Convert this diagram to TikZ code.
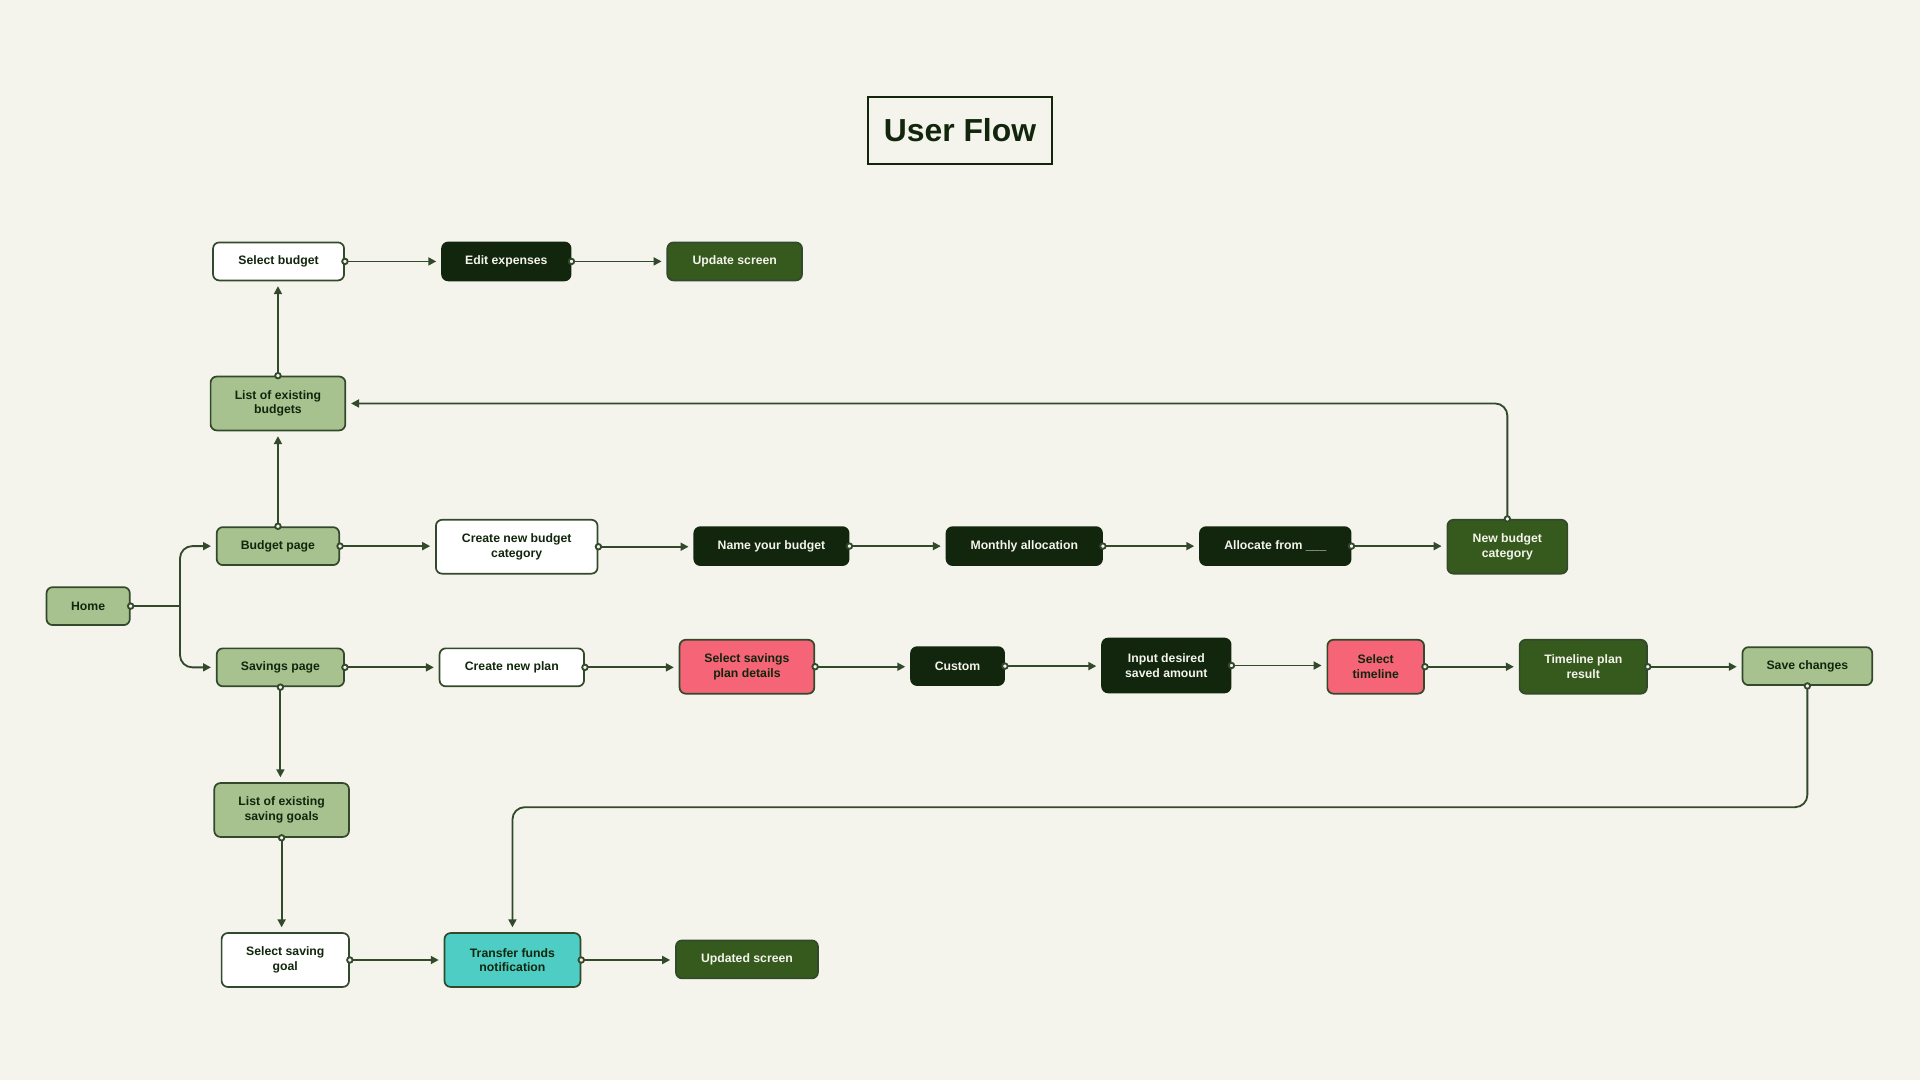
\documentclass[tikz,border=0pt]{standalone}
\usepackage{fontspec}
\setmainfont{Liberation Sans}
\usetikzlibrary{arrows.meta}
\definecolor{bg}{HTML}{F4F4EC}
\definecolor{ink}{HTML}{11260D}
\definecolor{leaf}{HTML}{365A1D}
\definecolor{sage}{HTML}{A8C28F}
\definecolor{rose}{HTML}{F56477}
\definecolor{aqua}{HTML}{4ECDC4}
\definecolor{wire}{HTML}{33492C}
\begin{document}
\begin{tikzpicture}[x=1pt,y=-1pt]
\tikzset{
    box/.style={rounded corners=5pt, line width=1.4pt, draw=wire, align=center, inner sep=2pt,
        font=\bfseries\fontsize{10}{12}\selectfont},
    plain box/.style={box, fill=white, text=ink},
    sage box/.style={box, fill=sage, text=ink},
    ink box/.style={box, fill=ink, draw=ink, text=bg},
    leaf box/.style={box, fill=leaf, text=bg},
    rose box/.style={box, fill=rose, text=ink},
    aqua box/.style={box, fill=aqua, text=ink},
    one line/.style={minimum height=31pt},
    two lines/.style={minimum height=44pt},
    link/.style={wire, line width=1.5pt, {Circle[length=6pt,fill=bg]}-{Triangle[length=6.5pt,width=6.5pt]},
        shorten <=-3pt, shorten >=4pt},
    link start/.style={wire, line width=1.5pt, {Circle[length=6pt,fill=bg]}-, shorten <=-3pt},
    link end/.style={wire, line width=1.5pt, -{Triangle[length=6.5pt,width=6.5pt]}, shorten >=4pt,
        rounded corners=10pt}}

\fill[bg] (0,0) rectangle (1568,882);
\useasboundingbox (0,0) rectangle (1568,882);

\node[draw=ink, line width=2pt, minimum width=150pt, minimum height=55pt, text=ink,
    font=\bfseries\fontsize{26}{30}\selectfont] (T) at (784,106.5) {User Flow};

\node[plain box, one line, minimum width=107pt] (SB) at (227.5,213.5) {Select budget};
\node[ink box, one line, minimum width=105pt] (EE) at (413.5,213.5) {Edit expenses};
\node[leaf box, one line, minimum width=110pt] (US) at (600,213.5) {Update screen};
\node[sage box, two lines, minimum width=110pt] (LB) at (227,329.5) {List of existing\\budgets};

\node[sage box, one line, minimum width=100pt] (BP) at (227,446) {Budget page};
\node[plain box, two lines, minimum width=132pt] (CB) at (422,446.5) {Create new budget\\category};
\node[ink box, one line, minimum width=126pt] (NY) at (630,446) {Name your budget};
\node[ink box, one line, minimum width=127pt] (MA) at (836.5,446) {Monthly allocation};
\node[ink box, one line, minimum width=123pt] (AF) at (1041.5,446) {Allocate from \_\_\_};
\node[leaf box, two lines, minimum width=98pt] (NB) at (1231,446.5) {New budget\\category};

\node[sage box, one line, minimum width=68pt] (Home) at (72,495) {Home};

\node[sage box, one line, minimum width=104pt] (SP) at (229,545) {Savings page};
\node[plain box, one line, minimum width=118pt] (CP) at (418,545) {Create new plan};
\node[rose box, two lines, minimum width=110pt] (SD) at (610,544.5) {Select savings\\plan details};
\node[ink box, one line, minimum width=76pt] (CU) at (782,544) {Custom};
\node[ink box, two lines, minimum width=105pt] (ID) at (952.5,543.5) {Input desired\\saved amount};
\node[rose box, two lines, minimum width=79pt] (ST) at (1123.5,544.5) {Select\\timeline};
\node[leaf box, two lines, minimum width=104pt] (TP) at (1293,544.5) {Timeline plan\\result};
\node[sage box, one line, minimum width=106pt] (SC) at (1476,544) {Save changes};

\node[sage box, two lines, minimum width=110pt] (LG) at (230,661.5) {List of existing\\saving goals};
\node[plain box, two lines, minimum width=104pt] (SG) at (233,784) {Select saving\\goal};
\node[aqua box, two lines, minimum width=111pt] (TF) at (418.5,784) {Transfer funds\\notification};
\node[leaf box, one line, minimum width=116pt] (UP) at (610,783.5) {Updated screen};

\coordinate (J) at (147,495);
\draw[link start] (Home.east) -- (J);
\draw[link end] (J) |- (BP.west);
\draw[link end] (J) |- (SP.west);

\foreach \a/\b in {SB/EE, EE/US, BP/CB, CB/NY, NY/MA, MA/AF, AF/NB,
    SP/CP, CP/SD, SD/CU, CU/ID, ID/ST, ST/TP, TP/SC, SG/TF, TF/UP}{
    \draw[link] (\a.east) -- (\a.east -| \b.west);
}

\draw[link] (BP.north) -- (BP.north |- LB.south);
\draw[link] (LB.north) -- (LB.north |- SB.south);
\draw[link] (SP.south) -- (SP.south |- LG.north);
\draw[link] (LG.south) -- (LG.south |- SG.north);

\draw[link, rounded corners=10pt] (NB.north) |- (LB.east);
\draw[link, rounded corners=10pt] (SC.south) -- ++(0,99) -| (TF.north);

\end{tikzpicture}
\end{document}
